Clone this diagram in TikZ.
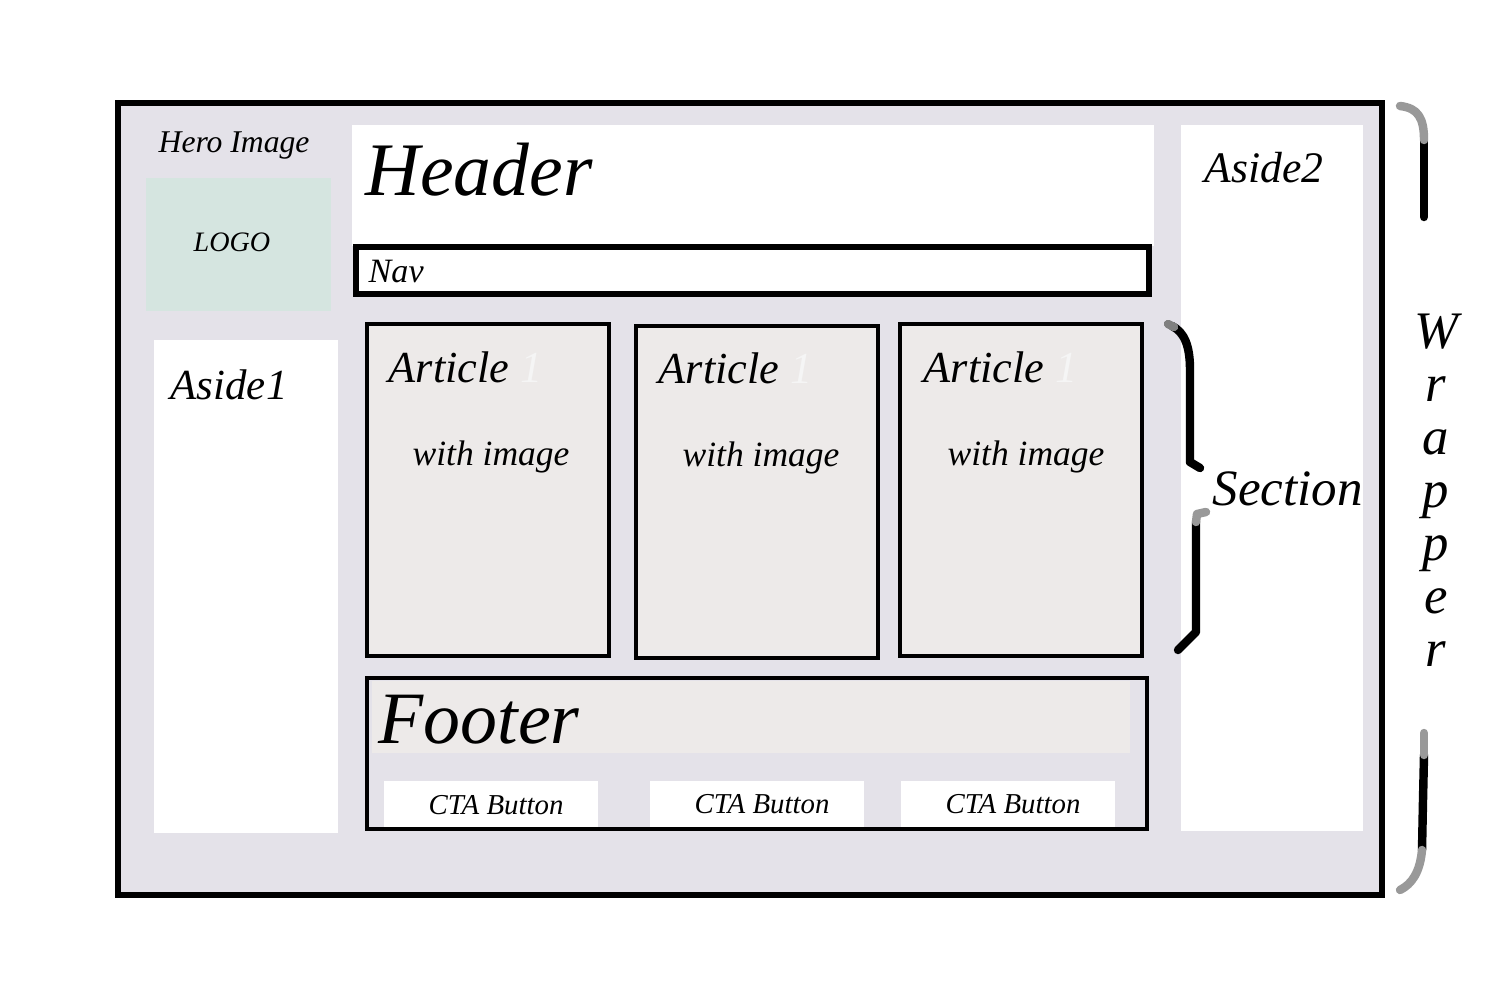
\documentclass[tikz,border=0pt]{standalone}
\usepackage{fontspec}
\setmainfont{Liberation Serif}
\definecolor{wrapbg}{RGB}{228,226,233}
\definecolor{artbg}{RGB}{237,234,233}
\definecolor{logobg}{RGB}{213,229,224}
\begin{document}
\begin{tikzpicture}[x=0.01cm,y=-0.01cm,
  lbl/.style={inner sep=0pt,font=\itshape},
  frame/.style={draw=black,line width=1pt},
  curl/.style={line width=2.4pt,line cap=round,line join=round}]
\useasboundingbox[fill=white] (0,0) rectangle (1500,1000);
% wrapper and columns
\filldraw[fill=wrapbg,draw=black,line width=1.8pt] (118,103) rectangle (1382,895);
\fill[logobg] (146,178) rectangle (331,311);
\fill[white] (154,340) rectangle (338,833);
\fill[white] (352,125) rectangle (1154,246);
\fill[white] (1181,125) rectangle (1363,831);
\filldraw[fill=white,draw=black,line width=1.5pt] (356,247) rectangle (1149,294);
% articles
\foreach \xa/\xb/\ya in {367/609/324, 636/878/326, 900/1142/324}
  \filldraw[fill=artbg,frame] (\xa,\ya) rectangle (\xb,\ya+332);
% footer
\filldraw[fill=wrapbg,frame] (367,678) rectangle (1147,829);
\fill[artbg] (372,681) rectangle (1130,753);
\foreach \xa in {384,650,901}
  \fill[white] (\xa,781) rectangle (\xa+214,827);

\node[lbl,font=\itshape\fontsize{9}{11}\selectfont,anchor=west] (hero) at (158,146) {Hero Image};
\node[lbl,font=\itshape\fontsize{8}{10}\selectfont] (logo) at (232,242) {LOGO};
\node[lbl,font=\itshape\fontsize{12.2}{14}\selectfont,anchor=west] (aside1) at (170,385) {Aside1};
\node[lbl,font=\itshape\fontsize{21.5}{24}\selectfont,anchor=west] (header) at (365,170) {Header};
\node[lbl,font=\itshape\fontsize{9.7}{12}\selectfont,anchor=west] (nav) at (368,272) {Nav};
\node[lbl,font=\itshape\fontsize{12.4}{14}\selectfont,anchor=west] (aside2) at (1204,168) {Aside2};
\node[lbl,font=\itshape\fontsize{12.6}{15}\selectfont,anchor=west] (art1) at (388,367) {Article {\color{black!4}1}};
\node[lbl,font=\itshape\fontsize{12.6}{15}\selectfont,anchor=west] (art2) at (658,368) {Article {\color{black!4}1}};
\node[lbl,font=\itshape\fontsize{12.6}{15}\selectfont,anchor=west] (art3) at (923,367) {Article {\color{black!4}1}};
\node[lbl,font=\itshape\fontsize{10.1}{12}\selectfont] (img1) at (491,457) {with image};
\node[lbl,font=\itshape\fontsize{10.1}{12}\selectfont] (img2) at (761,458) {with image};
\node[lbl,font=\itshape\fontsize{10.1}{12}\selectfont] (img3) at (1026,457) {with image};
\node[lbl,font=\itshape\fontsize{21}{24}\selectfont,anchor=west] (footer) at (378,720) {Footer};
\node[lbl,font=\itshape\fontsize{8.2}{10}\selectfont] (cta1) at (496,805) {CTA Button};
\node[lbl,font=\itshape\fontsize{8.2}{10}\selectfont] (cta2) at (762,804) {CTA Button};
\node[lbl,font=\itshape\fontsize{8.2}{10}\selectfont] (cta3) at (1013,804) {CTA Button};
\node[lbl,font=\itshape\fontsize{14.5}{17}\selectfont,anchor=west] (section) at (1212,489) {Section};
\node[lbl,font=\itshape\fontsize{15}{15.07}\selectfont,align=center] (wrapper) at (1436,490) {W\\r\\a\\p\\p\\e\\r};

% hand drawn braces
\draw[curl] (1172,326) .. controls (1184,332) and (1190,345) .. (1190,370) -- (1190,462) -- (1200,468);
\draw[curl,gray] (1168,324) -- (1174,327);
\draw[curl] (1196,522) -- (1196,632) -- (1178,650);
\draw[curl,gray!80] (1206,512) -- (1197,514) -- (1196,522);
\draw[curl] (1424,140) -- (1424,217);
\draw[curl,gray!80] (1400,106) .. controls (1418,108) and (1424,118) .. (1424,140);
\draw[curl] (1424,755) -- (1423,800) -- (1422,850);
\draw[curl,gray!80] (1424,733) -- (1424,755);
\draw[curl,gray!80] (1422,850) .. controls (1420,872) and (1412,884) .. (1400,890);
\end{tikzpicture}
\end{document}
